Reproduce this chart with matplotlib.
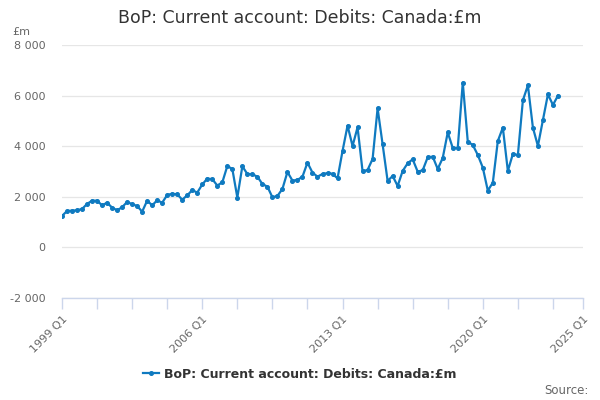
import matplotlib
matplotlib.use("Agg")
import matplotlib.pyplot as plt
import numpy as np

# Quarterly data, 1999 Q1 .. 2023 Q4 (£m)
values = [
    1235, 1430, 1445, 1460, 1510, 1710, 1840, 1840, 1655, 1760,
    1565, 1460, 1580, 1790, 1700, 1630, 1405, 1840, 1655, 1855,
    1760, 2065, 2115, 2090, 1880, 2050, 2260, 2160, 2480, 2715,
    2690, 2440, 2565, 3210, 3095, 1965, 3200, 2895, 2885, 2790,
    2500, 2395, 1975, 2025, 2305, 2975, 2635, 2660, 2790, 3345,
    2950, 2790, 2895, 2930, 2905, 2720, 3807, 4809, 4004, 4743,
    3002, 3055, 3490, 5495, 4070, 2620, 2817, 2422, 3015, 3319,
    3477, 2989, 3042, 3556, 3582, 3094, 3530, 4540, 3925, 3925,
    6511, 4176, 4044, 3648, 3147, 2237, 2553, 4202, 4730, 3015,
    3688, 3648, 5812, 6405, 4730, 4004, 5033, 6049, 5627, 5996,
]
start_year = 1999
tick_quarters = [0, 7, 14, 21, 28, 35, 42, 49, 56, 63, 70, 77, 84, 91, 98, 104]
label_quarters = [0, 28, 56, 84, 104]
tick_labels = ["1999 Q1", "2006 Q1", "2013 Q1", "2020 Q1", "2025 Q1"]
y_ticks = [-2000, 0, 2000, 4000, 6000, 8000]
series_name = "BoP: Current account: Debits: Canada:£m"
title = "BoP: Current account: Debits: Canada:£m"

line_color = "#0f7ac0"
text_color = "#666666"

fig = plt.figure(figsize=(6, 4), dpi=100)
ax = fig.add_axes([62 / 600, 1 - 297.7 / 400, (583 - 62) / 600, (297.7 - 45) / 400])

x = start_year + np.arange(len(values)) / 4.0
ax.plot(x, values, color=line_color, lw=1.6, marker="o", ms=2.6,
        label=series_name, zorder=3)

ax.set_xlim(start_year, start_year + 104 / 4)
ax.set_ylim(-2000, 8000)

ax.set_yticks(y_ticks)
ax.set_yticklabels([f"{v:,}".replace(",", " ") for v in y_ticks])
ax.tick_params(axis="y", length=0, labelsize=8, labelcolor=text_color, pad=12)
ax.yaxis.grid(True, color="#e6e6e6", lw=0.9)
ax.set_axisbelow(True)

ticks = [start_year + q / 4 for q in tick_quarters]
ax.set_xticks(ticks)
labels = []
for q in tick_quarters:
    labels.append(tick_labels[label_quarters.index(q)] if q in label_quarters else "")
ax.set_xticklabels(labels, rotation=45, ha="right", rotation_mode="anchor")
ax.tick_params(axis="x", length=8, width=1, color="#ccd6eb", labelsize=8,
               labelcolor=text_color, pad=4)

for s in ["top", "right", "left"]:
    ax.spines[s].set_visible(False)
ax.spines["bottom"].set_color("#ccd6eb")
ax.spines["bottom"].set_linewidth(1)

fig.text(0.5, 1 - 18 / 400, title, ha="center", va="center", fontsize=12.5, color="#333333")
fig.text(12 / 600, 1 - 32 / 400, "£m", ha="left", va="center", fontsize=8, color=text_color)
fig.legend(loc="center", bbox_to_anchor=(0.5, 1 - 374 / 400), frameon=False,
           prop={"weight": "bold", "size": 9}, handlelength=1.3, handletextpad=0.4,
           labelcolor="#333333")
fig.text(589 / 600, 1 - 390 / 400, "Source:", ha="right", va="center", fontsize=8.5, color=text_color)

fig.savefig("out.png", dpi=100)
